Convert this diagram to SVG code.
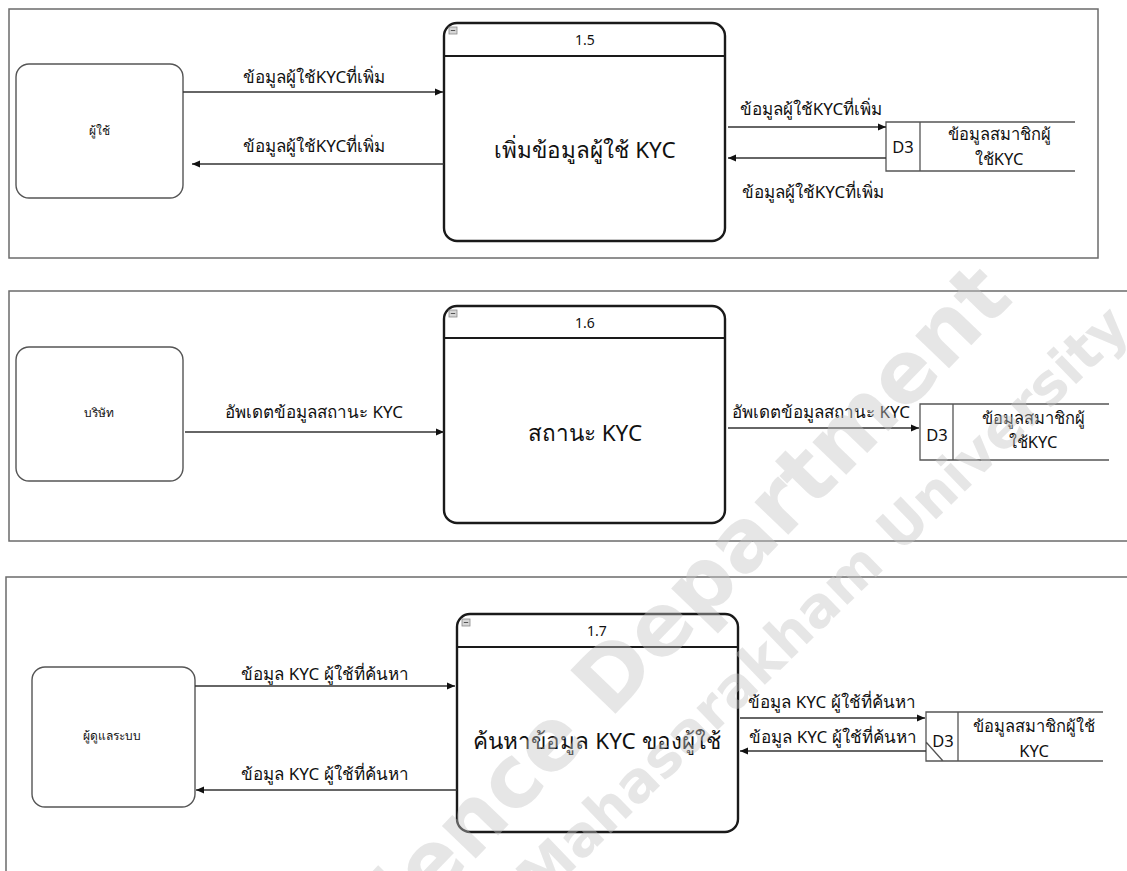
<svg xmlns="http://www.w3.org/2000/svg" width="1127" height="871" viewBox="0 0 1127 871">
  <style>
    .panel { fill: none; stroke: #6b6b6b; stroke-width: 1.5; }
    .entity { fill: #ffffff; stroke: #555555; stroke-width: 1.4; }
    .proc { fill: #ffffff; stroke: #1a1a1a; stroke-width: 2.4; }
    .sep { stroke: #1a1a1a; stroke-width: 2.2; }
    .store { fill: none; stroke: #555555; stroke-width: 1.3; }
    .flow { fill: none; stroke: #333333; stroke-width: 1.3; }
    text { font-family: Tahoma, "Noto Sans", "DejaVu Sans", sans-serif; fill: #111111; }
    .lbl { font-size: 17px; text-anchor: middle; }
    .ent { font-size: 12px; text-anchor: middle; }
    .hdr { font-size: 14px; text-anchor: middle; }
    .main { font-size: 22.5px; text-anchor: middle; }
    .st { font-size: 16.5px; text-anchor: middle; }
    .wm { font-family: "DejaVu Sans", sans-serif; font-weight: bold; fill: #c4c4c4; fill-opacity: 0.42; }
  </style>
  <defs>
    <marker id="arr" viewBox="0 0 10 10" refX="10" refY="5" markerWidth="8" markerHeight="8" markerUnits="userSpaceOnUse" orient="auto">
      <path d="M0,0.5 L10,5 L0,9.5 z" fill="#111111"/>
    </marker>
    <g id="fold">
      <rect x="0" y="0" width="8" height="7" fill="#d6d6d6" stroke="#8a8a8a" stroke-width="0.8"/>
      <line x1="1.8" y1="3.5" x2="6.2" y2="3.5" stroke="#555555" stroke-width="1"/>
    </g>
  </defs>

  <rect width="1127" height="871" fill="#ffffff"/>

  <!-- frames -->
  <rect class="panel" x="9" y="9" width="1089" height="249"/>
  <rect class="panel" x="9" y="291" width="1130" height="250"/>
  <rect class="panel" x="6" y="577" width="1140" height="320"/>

  <!-- ===== 1.5 ===== -->
  <g id="ent-user">
    <rect class="entity" x="16" y="64" width="167" height="134" rx="13"/>
    <text class="ent" x="99" y="135">ผู้ใช้</text>
  </g>
  <g id="proc-1-5">
    <rect class="proc" x="444" y="23" width="281" height="218" rx="13"/>
    <line class="sep" x1="444" y1="56" x2="725" y2="56"/>
    <use href="#fold" x="449" y="27"/>
    <text class="hdr" x="585" y="45">1.5</text>
    <text class="main" x="585" y="158">เพิ่มข้อมูลผู้ใช้ KYC</text>
  </g>
  <g id="store-d3-a">
    <path class="store" d="M1075,122 H886 V171 H1075 M920,122 V171"/>
    <text class="st" x="903" y="153">D3</text>
    <text class="st" x="999" y="140">ข้อมูลสมาชิกผู้</text>
    <text class="st" x="999" y="165">ใช้KYC</text>
  </g>

  <!-- ===== 1.6 ===== -->
  <g id="ent-company">
    <rect class="entity" x="16" y="347" width="167" height="134" rx="13"/>
    <text class="ent" x="99" y="417">บริษัท</text>
  </g>
  <g id="proc-1-6">
    <rect class="proc" x="444" y="306" width="281" height="217" rx="13"/>
    <line class="sep" x1="444" y1="338" x2="725" y2="338"/>
    <use href="#fold" x="449" y="310"/>
    <text class="hdr" x="585" y="328">1.6</text>
    <text class="main" x="585" y="441">สถานะ KYC</text>
  </g>
  <g id="store-d3-b">
    <path class="store" d="M1109,404 H920 V460 H1109 M953,404 V460"/>
    <text class="st" x="937" y="441">D3</text>
    <text class="st" x="1033" y="424">ข้อมูลสมาชิกผู้</text>
    <text class="st" x="1033" y="448">ใช้KYC</text>
  </g>

  <!-- ===== 1.7 ===== -->
  <g id="ent-admin">
    <rect class="entity" x="32" y="667" width="163" height="140" rx="13"/>
    <text class="ent" x="112" y="740">ผู้ดูแลระบบ</text>
  </g>
  <g id="proc-1-7">
    <rect class="proc" x="457" y="614" width="281" height="218" rx="13"/>
    <line class="sep" x1="457" y1="647" x2="738" y2="647"/>
    <use href="#fold" x="462" y="619"/>
    <text class="hdr" x="597" y="636">1.7</text>
    <text class="main" x="597" y="749">ค้นหาข้อมูล KYC ของผู้ใช้</text>
  </g>
  <g id="store-d3-c">
    <path class="store" d="M1103,712 H926 V761 H1103 M958,712 V761 M926,742 L943,761"/>
    <text class="st" x="943" y="747">D3</text>
    <text class="st" x="1034" y="732">ข้อมูลสมาชิกผู้ใช้</text>
    <text class="st" x="1034" y="757">KYC</text>
  </g>

  <!-- connectors -->
  <g id="flows">
    <path class="flow" d="M183,92 H443" marker-end="url(#arr)"/>
    <path class="flow" d="M444,164 H192" marker-end="url(#arr)"/>
    <path class="flow" d="M728,127 H886" marker-end="url(#arr)"/>
    <path class="flow" d="M886,158 H728" marker-end="url(#arr)"/>

    <path class="flow" d="M185,432 H444" marker-end="url(#arr)"/>
    <path class="flow" d="M728,428 H919" marker-end="url(#arr)"/>

    <path class="flow" d="M195,686 H455" marker-end="url(#arr)"/>
    <path class="flow" d="M457,790 H196" marker-end="url(#arr)"/>
    <path class="flow" d="M740,718 H925" marker-end="url(#arr)"/>
    <path class="flow" d="M926,751 H740" marker-end="url(#arr)"/>
  </g>

  <g id="flow-labels">
    <text class="lbl" x="314" y="83">ข้อมูลผู้ใช้KYCที่เพิ่ม</text>
    <text class="lbl" x="314" y="152">ข้อมูลผู้ใช้KYCที่เพิ่ม</text>
    <text class="lbl" x="811" y="115">ข้อมูลผู้ใช้KYCที่เพิ่ม</text>
    <text class="lbl" x="813" y="198">ข้อมูลผู้ใช้KYCที่เพิ่ม</text>

    <text class="lbl" x="314" y="418">อัพเดตข้อมูลสถานะ KYC</text>
    <text class="lbl" x="821" y="418">อัพเดตข้อมูลสถานะ KYC</text>

    <text class="lbl" x="325" y="680">ข้อมูล KYC ผู้ใช้ที่ค้นหา</text>
    <text class="lbl" x="325" y="780">ข้อมูล KYC ผู้ใช้ที่ค้นหา</text>
    <text class="lbl" x="832" y="708">ข้อมูล KYC ผู้ใช้ที่ค้นหา</text>
    <text class="lbl" x="833" y="743">ข้อมูล KYC ผู้ใช้ที่ค้นหา</text>
  </g>

  <!-- faint diagonal watermark -->
  <g id="watermark">
    <text class="wm" font-size="86" transform="translate(1015,300) rotate(-46)" text-anchor="end">Science Department</text>
    <text class="wm" font-size="56" transform="translate(1132,330) rotate(-44)" text-anchor="end">Mahasarakham University</text>
  </g>
</svg>
